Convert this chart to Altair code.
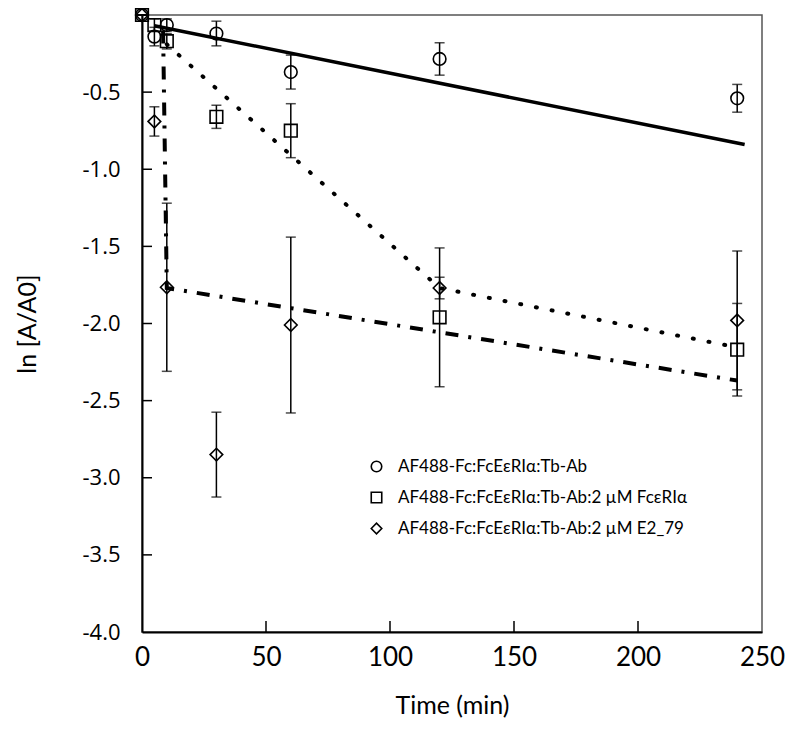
import altair as alt
import pandas as pd

# ---------------- data ----------------
times = [0, 5, 10, 30, 60, 120, 240]
series_labels = [
    "AF488-Fc:FcEεRIα:Tb-Ab",
    "AF488-Fc:FcEεRIα:Tb-Ab:2 µM FcεRIα",
    "AF488-Fc:FcEεRIα:Tb-Ab:2 µM E2_79",
]
series_shapes = ["circle", "square", "diamond"]

ab_vals = [0, -0.14, -0.065, -0.12, -0.37, -0.285, -0.54]
ab_err = [0, 0.06, 0.04, 0.08, 0.11, 0.105, 0.09]

fc_vals = [0, -0.065, -0.17, -0.66, -0.75, -1.96, -2.17]
fc_err = [0, 0.04, 0.05, 0.075, 0.175, 0.45, 0.30]

e2_vals = [0, -0.69, -1.765, -2.85, -2.01, -1.77, -1.98]
e2_err = [0, 0.095, 0.545, 0.275, 0.57, 0.07, 0.45]

fit_ab_t = [5, 243]
fit_ab_v = [-0.07, -0.84]
fit_fc_t = [10, 120, 240]
fit_fc_v = [-0.19, -1.77, -2.155]
fit_e2_t = [8.5, 10, 240]
fit_e2_v = [-0.1, -1.77, -2.37]

x_ticks = [0, 50, 100, 150, 200, 250]
y_ticks = [-0.5, -1.0, -1.5, -2.0, -2.5, -3.0, -3.5, -4.0]
x_inner_ticks = [50, 100, 150, 200]
y_inner_ticks = [-0.5, -1.0, -1.5, -2.0, -2.5, -3.0, -3.5]

# ---------------- tables ----------------
rows = []
for lab, vals, errs in zip(series_labels, [ab_vals, fc_vals, e2_vals], [ab_err, fc_err, e2_err]):
    for t, v, e in zip(times, vals, errs):
        rows.append({"series": lab, "t": t, "v": v, "lo": v - e, "hi": v + e})
pts = pd.DataFrame(rows)

fit_ab = pd.DataFrame({"t": fit_ab_t, "v": fit_ab_v})
fit_fc = pd.DataFrame({"t": fit_fc_t, "v": fit_fc_v})
fit_e2 = pd.DataFrame({"t": fit_e2_t, "v": fit_e2_v})

W, H = 620, 617
xs = alt.Scale(domain=[0, 250], nice=False, zero=False)
ys = alt.Scale(domain=[-4, 0], nice=False, zero=False)

NARROW = "Liberation Sans Narrow, Lato, sans-serif"

x_axis = alt.Axis(
    values=x_ticks, ticks=False, grid=False, domainColor="black", domainWidth=2,
    labelFlush=False,
    labelFont=NARROW, labelFontSize=26, labelColor="black", labelPadding=12,
    title="Time (min)", titleFont=NARROW, titleFontSize=25, titleFontWeight="normal",
    titleColor="black", titleX=W / 2, titleY=73, titleBaseline="middle",
)
y_axis = alt.Axis(
    values=y_ticks, ticks=False, grid=False, domainColor="black", domainWidth=2,
    labelFlush=False,
    labelExpr="replace(format(datum.value, '.1f'), '\u2212', '-')",
    labelFont="Open Sans", labelFontSize=22, labelColor="black", labelPadding=22,
    title="ln [A/A0]", titleFont=NARROW, titleFontSize=25, titleFontWeight="normal",
    titleColor="black", titleX=-115, titleY=H / 2, titleBaseline="middle",
)

base_x = alt.X("t:Q", scale=xs, axis=x_axis)
base_y = alt.Y("v:Q", scale=ys, axis=y_axis)

line_ab = alt.Chart(fit_ab).mark_line(color="black", strokeWidth=3.5).encode(
    x=alt.X("t:Q", scale=xs), y=alt.Y("v:Q", scale=ys))
line_fc = alt.Chart(fit_fc).mark_line(color="black", strokeWidth=4, strokeDash=[1, 15], strokeCap="round").encode(
    x=alt.X("t:Q", scale=xs), y=alt.Y("v:Q", scale=ys))
line_e2 = alt.Chart(fit_e2).mark_line(color="black", strokeWidth=4, strokeDash=[13, 10, 3, 10]).encode(
    x=alt.X("t:Q", scale=xs), y=alt.Y("v:Q", scale=ys))

err_rule = alt.Chart(pts).mark_rule(color="black", strokeWidth=1.5).encode(
    x=alt.X("t:Q", scale=xs), y=alt.Y("lo:Q", scale=ys), y2="hi:Q")
cap_lo = alt.Chart(pts).mark_tick(color="black", orient="horizontal", size=10, thickness=1.5).encode(
    x=alt.X("t:Q", scale=xs), y=alt.Y("lo:Q", scale=ys))
cap_hi = alt.Chart(pts).mark_tick(color="black", orient="horizontal", size=10, thickness=1.5).encode(
    x=alt.X("t:Q", scale=xs), y=alt.Y("hi:Q", scale=ys))

points = alt.Chart(pts).mark_point(filled=False, color="black", strokeWidth=1.6, size=160, opacity=1).encode(
    x=base_x,
    y=base_y,
    shape=alt.Shape(
        "series:N",
        scale=alt.Scale(domain=series_labels, range=series_shapes),
        legend=alt.Legend(
            title=None, orient="none", legendX=226, legendY=443, padding=0,
            labelFont=NARROW, labelFontSize=17, labelColor="black", labelOffset=13,
            labelLimit=400, rowPadding=13, symbolSize=110, symbolStrokeColor="black",
            symbolStrokeWidth=1.6, symbolFillColor="transparent",
        ),
    ),
)

ytick_df = pd.DataFrame({"v": y_inner_ticks})
xtick_df = pd.DataFrame({"t": x_inner_ticks})
ytick = alt.Chart(ytick_df).mark_rule(color="black", strokeWidth=1.5).encode(
    y=alt.Y("v:Q", scale=ys), x=alt.value(0), x2=alt.value(10))
xtick = alt.Chart(xtick_df).mark_rule(color="black", strokeWidth=1.5).encode(
    x=alt.X("t:Q", scale=xs), y=alt.value(H), y2=alt.value(H - 11))

chart = alt.layer(
    ytick, xtick, line_ab, line_fc, line_e2, err_rule, cap_lo, cap_hi, points
).properties(
    width=W, height=H,
    autosize=alt.AutoSizeParams(type="none"),
    padding={"left": 134, "top": 7, "right": 30, "bottom": 100},
    background="white",
).configure_view(stroke="#555555", strokeWidth=1.5)

chart.save("out.html", embed_options={"renderer": "svg", "actions": False})
